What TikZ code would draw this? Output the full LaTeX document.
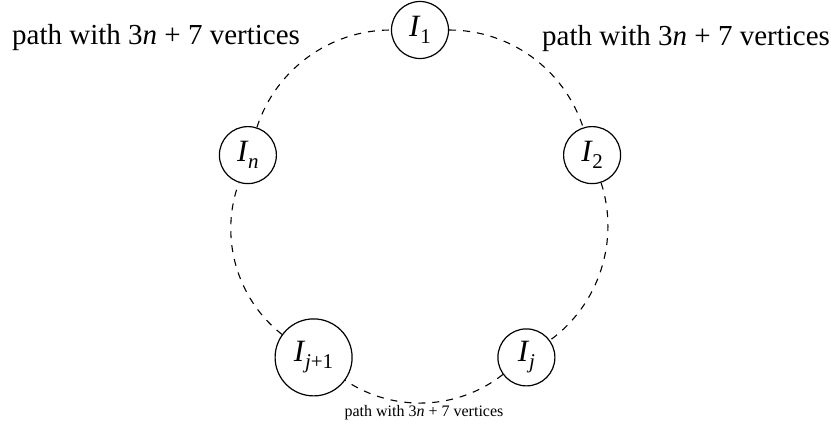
\documentclass[tikz,border=0pt]{standalone}
\usepackage{fontspec}
\setmainfont{Liberation Serif}
\newcommand\Ilab[1]{\textit{I}\kern-0.5pt\raisebox{-7pt}{\fontsize{21}{21}\selectfont #1}}
\begin{document}
\begin{tikzpicture}[x=1pt,y=-1pt,
  vtx/.style={circle,draw,line width=1.2pt,minimum size=57pt,inner sep=1pt,
    font=\fontsize{31}{34}\selectfont},
  arcline/.style={line width=1.1pt,dash pattern=on 7pt off 7pt,bend left=36,looseness=0.94},
  biglab/.style={anchor=base west,inner sep=0pt,font=\fontsize{29}{32}\selectfont},
  smalllab/.style={anchor=base,inner sep=0pt,font=\fontsize{16}{18}\selectfont}]
\useasboundingbox (0,0) rectangle (831,430);
\node[vtx] (I1) at (420,30) {\Ilab{1}};
\node[vtx] (I2) at (592.1,155.1) {\Ilab{2}};
\node[vtx] (Ij) at (526.4,357.4) {\Ilab{\textit{j}}};
\node[vtx,minimum size=77pt] (Ij1) at (313.6,357.4) {\Ilab{\textit{j}+1}};
\node[vtx] (In) at (247.9,155.1) {\Ilab{\textit{n}}};
\draw[arcline] (I1) to (I2);
\draw[arcline] (I2) to (Ij);
\draw[arcline] (Ij) to (Ij1);
\draw[arcline] (Ij1) to (In);
\draw[arcline] (In) to (I1);
\node[biglab] (tl) at (12,45) {path with 3\textit{n} + 7 vertices};
\node[biglab] (tr) at (542,46) {path with 3\textit{n} + 7 vertices};
\node[smalllab] (bm) at (424,417) {path with 3\textit{n} + 7 vertices};
\end{tikzpicture}
\end{document}
